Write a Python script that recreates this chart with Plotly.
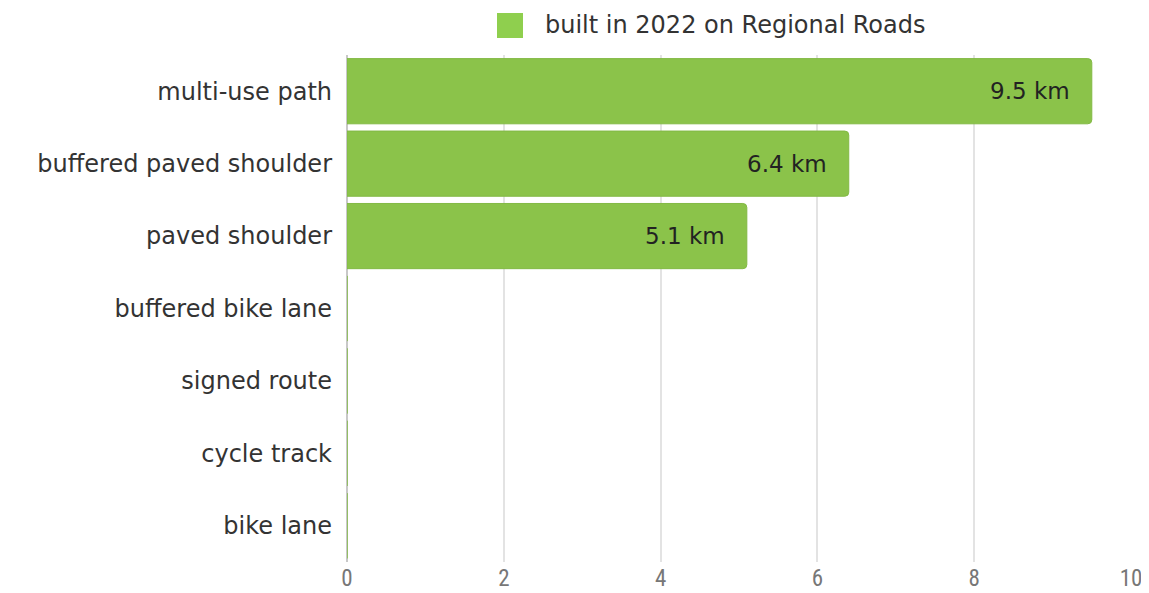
import plotly.graph_objects as go

categories = ["multi-use path", "buffered paved shoulder", "paved shoulder",
              "buffered bike lane", "signed route", "cycle track", "bike lane"]
values = [9.5, 6.4, 5.1, 0, 0, 0, 0]
series_name = "built in 2022 on Regional Roads"
unit = "km"
x_ticks = [0, 2, 4, 6, 8, 10]

GREEN = "#8BC34A"
FONT = "DejaVu Sans, sans-serif"

fig = go.Figure()
fig.add_trace(go.Bar(
    y=categories, x=values, orientation="h", name=series_name,
    marker=dict(color=GREEN, line=dict(color="#82b944", width=1)),
    width=0.9, showlegend=False, hoverinfo="x+y",
))

# value labels inside bar ends
for cat, v in zip(categories, values):
    if v > 0:
        fig.add_annotation(x=v, y=cat, xref="x", yref="y", text=f"{v} {unit}",
                           showarrow=False, xanchor="right", xshift=-20,
                           font=dict(family=FONT, size=23, color="#222222"))

# legend (manual, to get the large swatch)
fig.add_shape(type="rect", xref="paper", yref="paper",
              x0=0.1913, x1=0.2245, y0=1.0335, y1=1.0828,
              fillcolor="#8fcf4e", line=dict(width=0))
fig.add_annotation(x=0.25, y=1.059, xref="paper", yref="paper", text=series_name,
                   showarrow=False, xanchor="left", yanchor="middle",
                   font=dict(family=FONT, size=24, color="#333333"))

fig.update_layout(
    width=1141, height=585,
    margin=dict(l=339, r=18, t=47, b=31, autoexpand=False),
    paper_bgcolor="white", plot_bgcolor="white",
    barcornerradius=4,
    font=dict(family=FONT, size=24, color="#333333"),
    showlegend=False,
    xaxis=dict(range=[0, 10], tickvals=x_ticks, showgrid=True, gridcolor="#e3e3e3",
               gridwidth=1.5, zeroline=True, zerolinecolor="#c8c8c8", zerolinewidth=1.5,
               tickfont=dict(family="Liberation Sans Narrow, Roboto Condensed, sans-serif",
                             size=23, color="#777777"),
               ticks="", ticklabelstandoff=0, automargin=False),
    yaxis=dict(categoryorder="array", categoryarray=categories[::-1],
               tickfont=dict(family=FONT, size=24, color="#333333"), ticks="",
               ticklabelstandoff=14, showgrid=False, automargin=False),
    bargap=0.1,
)

fig.write_html("out.html")
